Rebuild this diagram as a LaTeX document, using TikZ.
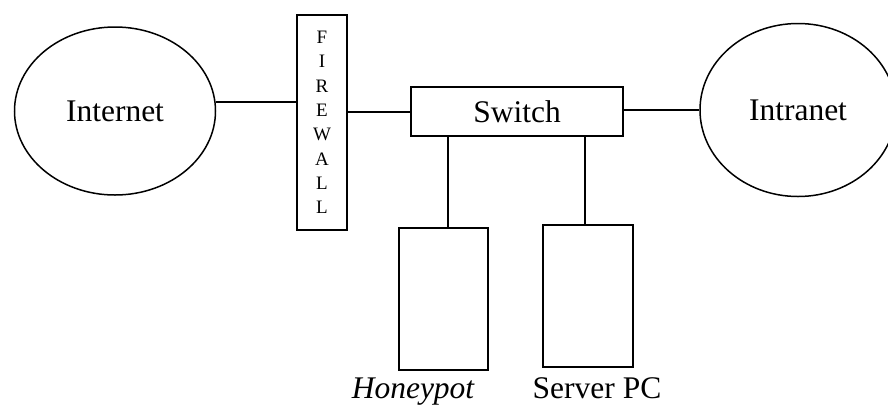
\documentclass[tikz,border=0pt]{standalone}
\usepackage{fontspec}
\setmainfont{Liberation Serif}
\usetikzlibrary{shapes.geometric,calc}
\begin{document}
\begin{tikzpicture}[x=1pt,y=-1pt,
  cloud/.style={draw,ellipse,line width=1.5pt,inner sep=0pt,font=\fontsize{31.5}{36}\selectfont},
  box/.style={draw,rectangle,line width=2pt,inner sep=0pt},
  lbl/.style={inner sep=0pt,font=\fontsize{31.5}{36}\selectfont},
  link/.style={line width=2pt}]
\useasboundingbox (0,0) rectangle (888,405);
\clip (0,0) rectangle (888,405);
\node[cloud,minimum width=201pt,minimum height=168pt] (inet) at (115,111) {\raisebox{-6pt}{Internet}};
\node[cloud,minimum width=196pt,minimum height=173pt] (intra) at (798,110) {\raisebox{-3pt}{Intranet}};
\node[box,minimum width=50pt,minimum height=215pt,align=center,font=\fontsize{19}{24.3}\selectfont] (fw) at (322,122.5) {F\\I\\R\\E\\W\\A\\L\\L};
\node[box,minimum width=212pt,minimum height=49pt,font=\fontsize{31.5}{36}\selectfont] (sw) at (517,111.5) {\raisebox{-5pt}{Switch}};
\node[box,minimum width=89pt,minimum height=142pt] (hp) at (443.5,299) {};
\node[box,minimum width=90pt,minimum height=142pt] (srv) at (588,296) {};
\node[lbl] (hplbl) at (413,392) {\itshape Honeypot};
\node[lbl] (srvlbl) at (597,388) {Server PC};
\draw[link] (inet.5) -- (inet.5 -| fw.west);
\draw[link] (fw.east |- sw.west) -- (sw.west);
\draw[link] (sw.east |- intra.west) -- (intra.west);
\draw[link] ([xshift=4.5pt]hp.north |- sw.south) -- ([xshift=4.5pt]hp.north);
\draw[link] ([xshift=-3pt]srv.north |- sw.south) -- ([xshift=-3pt]srv.north);
\end{tikzpicture}
\end{document}
